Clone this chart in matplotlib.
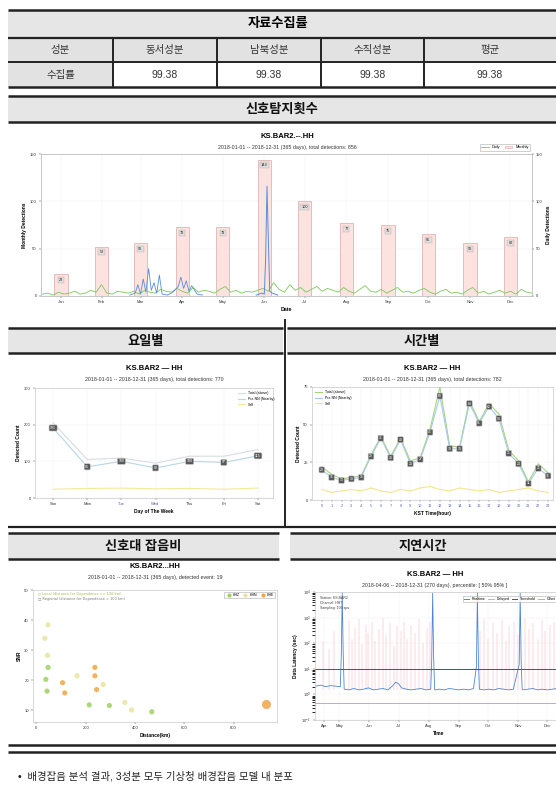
import matplotlib
matplotlib.use("Agg")
import matplotlib.pyplot as plt
from matplotlib.patches import Rectangle
from matplotlib.lines import Line2D

plt.rcParams['font.family'] = ['Liberation Sans', 'Noto Sans CJK KR', 'DejaVu Sans']

W, H = 556, 795

# collection rate table
table_title = "자료수집률"
table_header = ["성분", "동서성분", "남북성분", "수직성분", "평균"]
table_row_label = "수집률"
collection_rate = [99.38, 99.38, 99.38, 99.38]

station = "KS.BAR2"
period = "2018-01-01 -- 2018-12-31 (365 days)"

# monthly detections (bars) and daily detections (lines)
months = ["Jan", "Feb", "Mar", "Apr", "May", "Jun", "Jul", "Aug", "Sep", "Oct", "Nov", "Dec"]
month_mid_day = [15, 45, 74, 105, 135, 166, 196, 227, 258, 288, 319, 349]
monthly_counts = [23, 52, 56, 73, 73, 144, 100, 77, 75, 65, 56, 62]

daily_days = list(range(1, 366, 4))
daily_counts = [2, 3, 1, 4, 2, 3, 5, 2,
                3, 6, 4, 12, 3, 2, 5, 4,
                3, 5, 2, 6, 4, 3, 7, 5,
                4, 8, 5, 3, 9, 4, 6,
                5, 3, 7, 10, 4, 6, 3, 5,
                4, 6, 8, 5, 14, 7, 4,
                12, 6, 9, 4, 7, 10, 5, 8,
                6, 4, 9, 5, 3, 7, 11, 5,
                4, 7, 3, 6, 9, 4, 5,
                3, 6, 8, 4, 2, 5, 7, 3,
                4, 2, 6, 9, 3, 5, 2,
                4, 6, 3, 5, 2, 7, 4, 3]
burst_spring_days = [66, 70, 72, 74, 76, 78, 80, 82, 84, 86, 88, 90, 94, 98, 102, 104, 106, 108, 110, 112, 116, 120]
burst_spring_vals = [1, 3, 12, 2, 18, 4, 29, 6, 14, 3, 22, 2, 1, 4, 10, 20, 8, 16, 5, 11, 2, 1]
burst_june_days = [160, 164, 166, 167, 168, 169, 170, 172, 176]
burst_june_vals = [1, 3, 2, 40, 116, 60, 5, 3, 1]

# weekday counts
weekdays = ["Sun", "Mon", "Tue", "Wed", "Thu", "Fri", "Sat"]
weekday_total = [191, 85, 100, 82, 100, 97, 115]
weekday_upper = [205, 105, 109, 95, 114, 114, 132]
weekday_local = [24, 26, 27, 25, 26, 24, 27]

# hourly counts (KST)
hours = list(range(24))
hourly_total = [20, 15, 13, 14, 15, 29, 41, 28, 40, 24, 27, 45, 69, 34, 34, 64, 51, 62, 54, 31, 24, 11, 21, 16]
hourly_upper = [22, 17, 14, 15, 16, 30, 42, 29, 41, 26, 28, 47, 75, 36, 35, 66, 52, 64, 57, 33, 26, 12, 24, 18]
hourly_local = [7, 5, 6, 7, 6, 8, 6, 5, 7, 6, 8, 9, 7, 6, 8, 7, 6, 7, 5, 6, 7, 8, 6, 5]

# SNR vs distance
snr_dist = [47, 34, 45, 47, 38, 43, 106, 115, 165, 237, 237, 244, 271, 214, 296, 359, 386, 468, 932]
snr_val = [38.4, 33.9, 28.2, 24.2, 20.2, 16.3, 19.1, 15.7, 21.4, 24.2, 21.4, 16.8, 18.5, 11.7, 11.5, 12.5, 10.0, 9.4, 12.0]
snr_comp = ["HHN", "HHN", "HHN", "HHZ", "HHZ", "HHZ", "HHE", "HHE", "HHN", "HHE",
            "HHE", "HHE", "HHN", "HHZ", "HHZ", "HHN", "HHN", "HHZ", "HHE"]
comp_colors = {"HHZ": "#9fd060", "HHN": "#e8e49a", "HHE": "#f2a640"}

# data latency (day of year, seconds)
lat_month_days = [105, 121, 152, 182, 213, 244, 274, 305, 335]
lat_month_labels = ["Apr", "May", "Jun", "Jul", "Aug", "Sep", "Oct", "Nov", "Dec"]
lat_days = [97, 102, 107, 112, 117, 122, 123, 124, 125, 126, 131, 136, 141, 146, 151, 156, 161,
            166, 171, 176, 179, 182, 185, 190, 195, 200, 205, 210, 215, 216, 217, 218, 219, 224,
            229, 234, 239, 244, 249, 254, 259, 262, 263, 264, 265, 270, 275, 280, 285, 290, 295,
            300, 306, 307, 308, 309, 310, 315, 320, 325, 330, 335, 340, 345, 350]
lat_vals = [2.1, 2.3, 2.0, 2.2, 2.1, 2.0, 30, 9000, 40, 1.6, 1.5, 1.7, 1.5, 1.6, 1.8, 1.5, 1.6,
            1.7, 1.5, 2.2, 3.0, 2.6, 1.8, 1.6, 1.5, 1.6, 1.7, 1.5, 1.6, 20, 9000, 30, 1.5, 1.6,
            1.5, 1.7, 1.6, 1.5, 1.6, 1.5, 1.7, 12, 9000, 25, 1.6, 1.5, 1.6, 1.5, 1.7, 1.6, 1.5,
            1.6, 15, 9000, 20, 1.6, 1.5, 1.6, 1.7, 1.5, 1.6, 1.5, 1.6, 1.7, 1.5]
spike_days = [104, 110, 116, 131, 134, 137, 141, 144, 148, 151, 155, 158, 162, 166, 169, 173, 177,
              180, 184, 188, 191, 195, 199, 203, 207, 211, 214, 266, 270, 274, 279, 283, 288, 292,
              296, 301, 305, 312, 316, 320, 325, 329, 333, 338, 342]
spike_vals = [120, 60, 300, 800, 150, 400, 900, 90, 500, 250, 700, 120, 350, 950, 200, 600, 80,
              450, 300, 700, 150, 500, 250, 850, 100, 400, 650, 300, 900, 150, 600, 250, 800, 120,
              450, 700, 200, 950, 350, 600, 150, 800, 300, 500, 700]
lat_threshold = 10
lat_offset = 0.45

footer = "•  배경잡음 분석 결과, 3성분 모두 기상청 배경잡음 모델 내 분포"

fig = plt.figure(figsize=(W / 100, H / 100), dpi=100)
bg = fig.add_axes([0, 0, 1, 1])
bg.set_xlim(0, W)
bg.set_ylim(H, 0)
bg.axis('off')


def px_axes(x0, y0, x1, y1):
    return fig.add_axes([x0 / W, 1 - y1 / H, (x1 - x0) / W, (y1 - y0) / H])


def hline(y, x0=8, x1=W, lw=1.6, color='#222222'):
    bg.plot([x0, x1], [y, y], color=color, lw=lw, solid_capstyle='butt')


def band(x0, x1, y0, y1, text):
    bg.add_patch(Rectangle((x0, y0), x1 - x0, y1 - y0, fc='#e6e6e6', ec='none'))
    hline(y0, x0, x1, lw=1.8)
    hline(y1, x0, x1, lw=1.8)
    bg.text((x0 + x1) / 2, (y0 + y1) / 2 + 1, text, ha='center', va='center',
            fontsize=9.5, fontweight='bold', color='#111111')


def chart_title(xc, y, sub):
    fig.text(xc / W, 1 - y / H, f"{station} — HH", ha='center', va='center',
             fontsize=5.5, fontweight='bold')
    fig.text(xc / W, 1 - (y + 11) / H, sub, ha='center', va='center', fontsize=3.8, color='#333333')


def style(ax, size=3):
    ax.tick_params(labelsize=size, length=1.5, width=0.3, pad=1.5, colors='#333333')
    for s in ax.spines.values():
        s.set_linewidth(0.4)
        s.set_color('#bbbbbb')
    ax.grid(color='#eeeeee', lw=0.3)
    ax.set_axisbelow(True)


# ---- collection rate table ----
cols = [8, 113, 217, 321, 424, W]
bg.add_patch(Rectangle((8, 10), W - 8, 28, fc='#e6e6e6', ec='none'))
bg.add_patch(Rectangle((8, 38), W - 8, 24, fc='#e2e2e2', ec='none'))
bg.add_patch(Rectangle((8, 62), cols[1] - 8, 25, fc='#e2e2e2', ec='none'))
for y, lw in [(10, 1.8), (38, 1.6), (62, 1.4), (87, 1.8)]:
    hline(y, lw=lw)
for x in cols[1:-1]:
    bg.plot([x, x], [38, 87], color='#222222', lw=1.4)
bg.text(278, 24, table_title, ha='center', va='center', fontsize=9.5, fontweight='bold')
row_vals = [table_row_label] + [f"{v:.2f}" for v in collection_rate]
for i in range(5):
    xc = (cols[i] + cols[i + 1]) / 2
    bg.text(xc, 50, table_header[i], ha='center', va='center', fontsize=7.5, color='#333333')
    bg.text(xc, 75, row_vals[i], ha='center', va='center', fontsize=7.5, color='#333333')

# ---- detection count section ----
band(8, W, 96, 122, "신호탐지횟수")
fig.text(287 / W, 1 - 136 / H, f"{station}.--.HH", ha='center', va='center', fontsize=5.5, fontweight='bold')
fig.text(287 / W, 1 - 147 / H, f"{period}, total detections: {sum(monthly_counts)}",
         ha='center', va='center', fontsize=3.8, color='#333333')

ax = px_axes(41, 154, 532, 296)
style(ax)
ax.bar(month_mid_day, monthly_counts, width=10, color='#fde3df', edgecolor='#d9a9a9', lw=0.5, zorder=2)
for d, v in zip(month_mid_day, monthly_counts):
    ax.text(d, v - 6, str(v), ha='center', va='center', fontsize=2.8, color='#222222', zorder=5,
            bbox=dict(boxstyle='square,pad=0.25', fc='#e4dede', ec='#aaaaaa', lw=0.3))
ax.set_xlim(0, 365)
ax.set_ylim(0, 150)
ax.set_yticks([0, 50, 100, 150])
ax.set_xticks(month_mid_day)
ax.set_xticklabels(months)
ax.set_xlabel("Date", fontsize=3.8, fontweight='bold', labelpad=2)
ax.set_ylabel("Monthly Detections", fontsize=3.5, fontweight='bold', labelpad=2)
axr = ax.twinx()
axr.plot(daily_days, daily_counts, color='#7cc75a', lw=0.6)
axr.plot(burst_spring_days, burst_spring_vals, color='#5a8ed8', lw=0.6)
axr.plot(burst_june_days, burst_june_vals, color='#5a8ed8', lw=0.7)
axr.set_ylim(0, 150)
axr.set_yticks([0, 50, 100, 150])
axr.tick_params(labelsize=3, length=1.5, width=0.3, pad=1.5, colors='#333333')
for s in axr.spines.values():
    s.set_linewidth(0.4)
    s.set_color('#bbbbbb')
axr.set_ylabel("Daily Detections", fontsize=3.5, fontweight='bold', labelpad=2)
handles = [Line2D([], [], color='#7cc75a', lw=0.6), Rectangle((0, 0), 1, 1, fc='#fde3df', ec='#d9a9a9', lw=0.4)]
axr.legend(handles, ["Daily", "Monthly"], loc='lower right', bbox_to_anchor=(1.0, 1.01), ncol=2,
           fontsize=2.8, frameon=True, edgecolor='#999999', fancybox=False, handlelength=2,
           borderpad=0.3, columnspacing=1.0).get_frame().set_linewidth(0.4)

# ---- weekday / hourly section ----
band(8, 283, 328, 353, "요일별")
band(287, W, 328, 353, "시간별")
bg.plot([285, 285], [320, 527], color='#222222', lw=1.4)

chart_title(154, 368, f"{period}, total detections: {sum(weekday_total)}")
ax = px_axes(35, 388, 273, 498)
style(ax)
xw = list(range(len(weekdays)))
ax.plot(xw, weekday_upper, color='#d6dde0', lw=0.8, label="Total (above)")
ax.plot(xw, weekday_total, color='#b8d6e6', lw=0.8, label="Pre-NN (Nearby)")
ax.plot(xw, weekday_local, color='#f2ea98', lw=0.8, label="Self")
for x, v in zip(xw, weekday_total):
    ax.text(x, v, str(v), ha='center', va='center', fontsize=2.6, color='white',
            bbox=dict(boxstyle='round,pad=0.3', fc='#595959', ec='#cccccc', lw=0.4))
ax.set_xlim(-0.53, 6.44)
ax.set_ylim(0, 300)
ax.set_yticks([0, 100, 200, 300])
ax.set_xticks(xw)
ax.set_xticklabels(weekdays)
for i, t in enumerate(ax.get_xticklabels()):
    if i in (2, 3):
        t.set_color('#5560b0')
ax.set_xlabel("Day of The Week", fontsize=3.5, fontweight='bold', labelpad=2)
ax.set_ylabel("Detected Count", fontsize=3.5, fontweight='bold', labelpad=2)
ax.legend(loc='upper right', fontsize=2.5, frameon=False, handlelength=2, bbox_to_anchor=(1.02, 1.0))

chart_title(432, 368, f"{period}, total detections: {sum(hourly_total)}")
ax = px_axes(312, 387, 553, 500)
style(ax)
ax.plot(hours, hourly_upper, color='#a6d47e', lw=0.8, label="Total (above)")
ax.plot(hours, hourly_total, color='#a9c9ec', lw=0.8, label="Pre-NN (Nearby)")
ax.plot(hours, hourly_local, color='#f2e68e', lw=0.8, label="Self")
for x, v in zip(hours, hourly_total):
    ax.text(x, v, str(v), ha='center', va='center', fontsize=2.4, color='white',
            bbox=dict(boxstyle='round,pad=0.3', fc='#595959', ec='#cccccc', lw=0.4))
ax.set_xlim(-1, 23.5)
ax.set_ylim(0, 75)
ax.set_yticks([0, 25, 50, 75])
ax.set_xticks(hours)
ax.tick_params(axis='x', labelsize=2.8, colors='#5560b0')
ax.set_xlabel("KST Time(hour)", fontsize=3.5, fontweight='bold', labelpad=2)
ax.set_ylabel("Detected Count", fontsize=3.5, fontweight='bold', labelpad=2)
ax.legend(loc='upper left', fontsize=2.5, frameon=False, handlelength=2)

# ---- SNR / latency section ----
hline(527, 8, W, lw=1.6)
band(8, 279, 533, 559, "신호대 잡음비")
band(290, W, 533, 559, "지연시간")

fig.text(155 / W, 1 - 567 / H, f"{station}...HH", ha='center', va='center', fontsize=5.5, fontweight='bold')
fig.text(155 / W, 1 - 578 / H, f"{period}, detected event: {len(snr_val)}",
         ha='center', va='center', fontsize=3.8, color='#333333')
ax = px_axes(33, 590, 277, 722)
style(ax)
ax.grid(False)
for d, v, c in zip(snr_dist, snr_val, snr_comp):
    big = d > 800
    ax.scatter(d, v, s=34 if big else 14, color=comp_colors[c], alpha=0.85,
               edgecolors='#e8b070' if big else 'none', linewidths=0.8)
ax.set_xlim(-14, 976)
ax.set_ylim(6, 50)
ax.set_xticks([0, 200, 400, 600, 800])
ax.set_yticks([10, 20, 30, 40, 50])
ax.set_xlabel("Distance(km)", fontsize=3.5, fontweight='bold', labelpad=2)
ax.set_ylabel("SNR", fontsize=3.5, fontweight='bold', labelpad=2)
ax.text(0.02, 0.985, "○ Local (distance for Dependence <= 100 km)", transform=ax.transAxes,
        fontsize=2.5, color='#a8b848', va='top', family=['DejaVu Sans'])
ax.text(0.02, 0.95, "□ Regional (distance for Dependence > 100 km)", transform=ax.transAxes,
        fontsize=2.5, color='#777777', va='top', family=['DejaVu Sans'])
handles = [Line2D([], [], ls='none', marker='o', ms=2, color=comp_colors[k]) for k in comp_colors]
ax.legend(handles, list(comp_colors), loc='upper right', ncol=3, fontsize=2.5, frameon=True,
          edgecolor='#999999', fancybox=False, handletextpad=0.2, columnspacing=0.6,
          borderpad=0.3).get_frame().set_linewidth(0.4)

fig.text(435 / W, 1 - 574 / H, f"{station} — HH", ha='center', va='center', fontsize=5.5, fontweight='bold')
fig.text(435 / W, 1 - 585 / H, "2018-04-06 -- 2018-12-31 (270 days), percentile: [ 50% 95% ]",
         ha='center', va='center', fontsize=3.8, color='#333333')
ax = px_axes(315, 592, 562, 720)
style(ax)
ax.set_yscale('log')
ax.vlines(spike_days, 1.5, spike_vals, color='#f0a0b0', lw=0.35, alpha=0.8)
ax.plot(lat_days, lat_vals, color='#4f84d6', lw=0.6)
ax.axhline(lat_threshold, color='#6a3d8a', lw=0.7)
ax.axhline(lat_offset, color='#f2a070', lw=0.7)
ax.set_xlim(96, 350)
ax.set_ylim(0.1, 1e4)
ax.set_yticks([0.1, 1, 10, 100, 1000, 10000])
ax.set_xticks(lat_month_days)
ax.set_xticklabels(lat_month_labels)
ax.set_xlabel("Time", fontsize=3.5, fontweight='bold', labelpad=2)
ax.set_ylabel("Data Latency (sec)", fontsize=3.5, fontweight='bold', labelpad=2)
ax.text(0.02, 0.97, "Station: KS.BAR2\nChannel: HH?\nSampling: 100 sps", transform=ax.transAxes,
        fontsize=2.5, va='top', color='#444444', linespacing=1.3)
handles = [Line2D([], [], color=c, lw=0.7) for c in ['#4f84d6', '#f0a0b0', '#6a3d8a', '#f2a070']]
ax.legend(handles, ["Realtime", "Delayed", "Threshold", "Offset"], loc='upper right',
          bbox_to_anchor=(0.985, 0.98), ncol=4, fontsize=2.5, frameon=True, edgecolor='#999999',
          fancybox=False, handlelength=1.5, columnspacing=0.8,
          borderpad=0.3).get_frame().set_linewidth(0.4)

hline(745, 8, W, lw=1.8)
hline(752, 8, W, lw=1.8)
bg.text(18, 776, footer, ha='left', va='center', fontsize=7.5, color='#222222')

fig.savefig("out.png", dpi=100)
